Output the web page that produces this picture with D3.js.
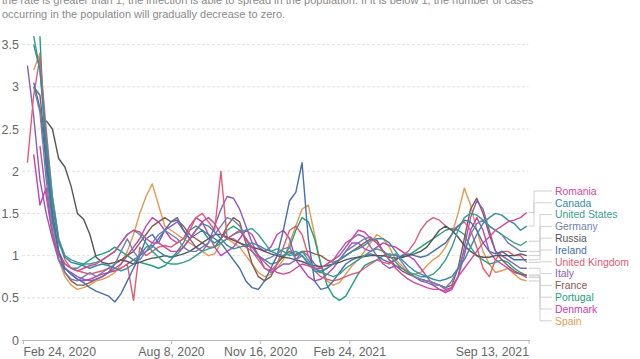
<!DOCTYPE html>
<html><head><meta charset="utf-8">
<script src="https://cdn.jsdelivr.net/npm/d3@7"></script>
<style>
html,body{margin:0;padding:0;background:#fff;}
svg{display:block;font-family:"Liberation Sans",Arial,sans-serif;}
</style></head>
<body><svg id="c" width="640" height="359"></svg>
<script>
// ---- data ----
const startDate = "2020-02-29";   // first weekly estimate
const stepDays = 7;
const tickLabels = ["Feb 24, 2020","Aug 8, 2020","Nov 16, 2020","Feb 24, 2021","Sep 13, 2021"];
const yTicks = [0,0.5,1,1.5,2,2.5,3,3.5];
const countries = ["Romania","Canada","United States","Germany","Russia","Ireland","United Kingdom","Italy","France","Portugal","Denmark","Spain"];
const colors = ["#d4489c","#3a8aa6","#3a9d8c","#6f7fb3","#555555","#456fae","#e05c74","#8c5db8","#8a5a4c","#22a07a","#c640b3","#e3994f"];

const romania = [null,null,2.3,1.7,1.25,1.0,0.9,0.85,0.82,0.85, 0.88,0.9,0.95,1.0,1.05,1.15,1.25,1.3,1.28,1.2, 1.15,1.15,1.1,1.05,1.05,1.1,1.2,1.3,1.4,1.45, 1.38,1.25,1.2,1.25,1.3,1.2,1.1,1.0,0.92,0.85, 0.8,0.78,0.8,0.85,0.9,0.88,0.85,0.85,0.9,0.95, 1.05,1.15,1.2,1.3,1.28,1.2,1.15,1.05,0.95,0.85, 0.78,0.72,0.68,0.65,0.62,0.6,0.6,0.58,0.62,0.75, 0.85,0.95,1.05,1.15,1.22,1.3,1.35,1.4,1.42,1.45, 1.51];
const canada = [null,3.5,3.2,2.3,1.6,1.15,0.98,0.92,0.9,0.88, 0.85,0.88,0.9,0.88,0.85,0.82,0.85,0.9,1.0,1.1, 1.12,1.05,1.0,0.98,1.02,1.1,1.2,1.3,1.38,1.35, 1.28,1.2,1.12,1.08,1.1,1.12,1.15,1.12,1.08,1.05, 1.02,1.0,1.02,1.05,1.0,0.9,0.82,0.8,0.85,0.9, 0.95,1.0,1.05,1.08,1.12,1.18,1.2,1.2,1.15,1.05, 0.95,0.88,0.82,0.78,0.75,0.72,0.7,0.72,0.75,0.85, 0.95,1.1,1.25,1.38,1.45,1.5,1.48,1.42,1.38,1.3, 1.35];
const unitedStates = [null,3.6,3.2,2.4,1.7,1.2,1.0,0.95,0.92,0.9, 0.9,0.92,0.95,1.0,1.05,1.15,1.25,1.3,1.25,1.15, 1.05,0.98,0.92,0.9,0.9,0.92,0.95,1.0,1.05,1.08, 1.1,1.15,1.2,1.25,1.28,1.3,1.32,1.25,1.15,1.05, 1.08,1.05,1.0,1.02,1.05,0.95,0.85,0.8,0.78,0.75, 0.78,0.85,0.9,0.95,1.0,1.05,1.08,1.05,1.0,0.92, 0.85,0.8,0.78,0.75,0.75,0.78,0.85,0.95,1.1,1.3, 1.45,1.5,1.48,1.42,1.35,1.3,1.25,1.2,1.15,1.12, 1.17];
const germany = [null,3.0,2.7,1.9,1.3,0.95,0.8,0.72,0.7,0.75, 0.8,0.75,0.8,0.85,0.9,1.05,1.2,1.05,0.95,1.05, 1.15,1.25,1.3,1.25,1.2,1.1,1.05,1.05,1.1,1.15, 1.25,1.35,1.45,1.42,1.35,1.2,1.05,0.98,0.95,0.98, 1.02,1.08,1.1,0.95,1.0,0.92,0.85,0.82,0.85,0.9, 0.95,1.05,1.1,1.15,1.2,1.22,1.15,1.05,1.0,1.02, 0.92,0.82,0.75,0.72,0.7,0.68,0.65,0.62,0.7,0.85, 1.05,1.25,1.38,1.42,1.35,1.3,1.25,1.15,1.1,1.05, 1.05];
const russia = [null,null,null,2.6,2.5,2.15,2.05,1.82,1.5,1.43, 1.25,0.98,0.92,0.9,0.92,0.95,0.93,0.9,0.92,0.95, 0.97,0.98,1.0,0.98,1.0,1.02,1.05,1.1,1.15,1.2, 1.25,1.25,1.22,1.18,1.15,1.12,1.1,1.08,1.05,1.02, 1.0,0.98,0.97,0.95,0.93,0.9,0.88,0.87,0.88,0.9, 0.92,0.95,0.97,0.98,0.99,1.0,1.0,1.0,0.98,0.97, 0.98,1.0,1.02,1.05,1.1,1.2,1.3,1.35,1.3,1.22, 1.12,1.05,1.0,0.98,0.98,1.0,1.0,1.0,1.0,1.02, 1.0];
const ireland = [null,3.05,2.75,2.1,1.5,1.05,0.85,0.78,0.72,0.68, 0.62,0.58,0.55,0.52,0.45,0.55,0.7,0.85,1.0,1.2, 1.25,1.15,1.3,1.4,1.45,1.3,1.2,1.25,1.3,1.25, 1.2,1.15,1.05,0.95,0.85,0.7,0.62,0.6,0.7,0.85, 1.0,1.3,1.65,1.75,2.1,1.2,0.7,0.6,0.62,0.7, 0.8,0.9,0.95,0.98,1.0,1.02,1.0,0.95,0.92,0.95, 1.0,1.02,1.0,0.98,1.0,1.05,1.1,1.15,1.25,1.35, 1.42,1.4,1.3,1.15,1.05,1.02,1.05,1.0,0.95,0.95, 0.95];
const unitedKingdom = [2.1,2.9,3.35,2.5,1.7,1.2,0.95,0.85,0.82,0.8, 0.78,0.8,0.82,0.85,0.82,0.85,0.9,0.47,1.1,1.0, 1.05,1.1,1.12,1.1,1.15,1.2,1.3,1.45,1.5,1.4, 1.3,2.0,1.2,1.2,1.15,1.1,1.05,0.95,0.85,0.82, 0.9,1.1,1.3,1.35,1.25,1.0,0.82,0.75,0.72,0.7, 0.72,0.75,0.78,0.8,0.85,0.9,0.95,0.92,0.9,0.95, 1.0,1.05,1.15,1.3,1.4,1.45,1.42,1.35,1.3,1.35, 1.4,1.3,1.1,0.85,0.75,0.95,1.05,1.05,1.0,1.0, 0.92];
const italy = [3.25,2.65,1.9,1.5,1.2,0.95,0.85,0.8,0.75,0.72, 0.7,0.72,0.75,0.8,0.82,0.85,0.9,0.95,1.0,1.05, 1.1,1.2,1.3,1.35,1.4,1.3,1.2,1.1,1.05,1.15, 1.35,1.55,1.7,1.68,1.55,1.35,1.15,1.0,0.85,0.8, 0.85,0.9,0.9,0.95,1.05,1.0,0.9,0.85,0.9,0.95, 1.0,1.1,1.2,1.25,1.22,1.1,1.0,0.9,0.85,0.88, 0.85,0.8,0.75,0.7,0.68,0.65,0.65,0.6,0.62,0.75, 1.1,1.45,1.65,1.55,1.3,1.05,1.0,0.95,0.9,0.85, 0.85];
const france = [null,3.0,2.9,2.2,1.5,1.05,0.8,0.7,0.65,0.65, 0.68,0.72,0.75,0.8,0.9,0.95,1.0,1.05,1.15,1.25, 1.35,1.4,1.45,1.4,1.42,1.35,1.25,1.2,1.15,1.1, 1.1,1.2,1.35,1.45,1.4,1.15,0.9,0.75,0.7,0.75, 0.9,1.0,1.05,1.0,1.05,1.05,1.02,1.0,0.95,0.92, 0.95,1.0,1.05,1.1,1.15,1.2,1.18,1.05,0.95,0.88, 0.82,0.78,0.75,0.72,0.7,0.68,0.65,0.62,0.65,0.85, 1.2,1.55,1.68,1.5,1.25,1.05,0.95,0.88,0.82,0.78, 0.77];
const portugal = [null,null,3.6,2.0,1.4,1.05,0.9,0.85,0.85,0.9, 0.95,1.0,1.02,1.05,1.1,1.05,1.0,0.95,0.92,0.9, 0.88,0.85,0.88,0.95,1.05,1.15,1.3,1.35,1.3,1.2, 1.15,1.2,1.3,1.35,1.3,1.2,1.1,1.0,0.95,0.9, 0.92,0.98,1.1,1.3,1.45,1.4,1.2,0.9,0.65,0.52, 0.47,0.52,0.65,0.78,0.88,0.92,0.95,1.0,1.02,1.0, 0.98,1.0,1.05,1.1,1.15,1.2,1.25,1.3,1.32,1.3, 1.25,1.1,1.0,0.95,0.9,0.92,0.95,0.92,0.85,0.8, 0.76];
const denmark = [null,2.2,1.6,1.8,1.25,0.95,0.85,0.78,0.72,0.7, 0.72,0.75,0.78,0.8,0.85,0.9,1.0,1.1,1.2,1.35, 1.45,1.4,1.3,1.2,1.15,1.2,1.35,1.45,1.4,1.25, 1.1,1.0,1.05,1.1,1.2,1.3,1.25,1.1,1.05,1.1, 1.25,1.3,1.2,0.95,0.85,0.75,0.7,0.72,0.78,0.85, 0.95,1.05,1.15,1.15,1.08,1.05,1.1,1.15,1.12,1.1, 1.05,1.0,0.95,0.85,0.75,0.65,0.6,0.56,0.6,0.75, 1.0,1.3,1.45,1.3,1.05,0.95,0.9,0.85,0.8,0.78, 0.74];
const spain = [null,3.2,3.4,2.3,1.4,0.95,0.75,0.65,0.6,0.62, 0.65,0.7,0.72,0.75,0.8,0.9,1.05,1.25,1.5,1.7, 1.85,1.6,1.35,1.3,1.25,1.2,1.15,1.1,1.05,1.0, 1.02,1.15,1.2,1.15,1.1,1.0,0.9,0.8,0.75,0.78, 0.85,0.95,1.15,1.35,1.55,1.6,1.25,0.9,0.7,0.65, 0.68,0.78,0.88,0.95,1.05,1.15,1.25,1.2,1.1,0.95, 0.88,0.8,0.78,0.8,0.88,0.95,1.0,1.1,1.25,1.5, 1.8,1.6,1.3,1.05,0.9,0.8,0.82,0.85,0.78,0.72, 0.70];
const seriesValues = [romania,canada,unitedStates,germany,russia,ireland,unitedKingdom,italy,france,portugal,denmark,spain];
const introLines = [
  "the rate is greater than 1, the infection is able to spread in the population. If it is below 1, the number of cases",
  "occurring in the population will gradually decrease to zero."
];

// ---- drawing ----
const svg = d3.select("#c");
const parse = d3.timeParse("%b %d, %Y");
const tickDates = tickLabels.map(parse);
const t0 = d3.timeParse("%Y-%m-%d")(startDate);
const dates = romania.map((_, i) => d3.timeDay.offset(t0, i * stepDays));

const x = d3.scaleTime().domain([tickDates[0], tickDates[tickDates.length-1]]).range([23, 528.5]);
const y = d3.scaleLinear().domain([0, 3.5]).range([340, 44.6]);

// intro text (top line is clipped by the frame, as in the source)
svg.append("g").selectAll("text").data(introLines).join("text")
  .attr("x", 2).attr("y", (d,i) => 4 + i*13.6)
  .attr("fill", "#8a8a8a").attr("font-size", 11).text(d => d);

// gridlines
svg.append("g").selectAll("line").data(yTicks.filter(v => v > 0)).join("line")
  .attr("x1", 22).attr("x2", 528.5)
  .attr("y1", d => y(d)).attr("y2", d => y(d))
  .attr("stroke", "#e2e2e2").attr("stroke-dasharray", "3,2");

// y labels
svg.append("g").selectAll("text").data(yTicks).join("text")
  .attr("x", 19).attr("y", d => y(d) + 4.5)
  .attr("text-anchor", "end").attr("fill", "#666").attr("font-size", 12.5)
  .text(d => d);

// x axis
const xAxis = d3.axisBottom(x).tickValues(tickDates).tickSize(4).tickPadding(2).tickFormat((d,i) => tickLabels[i]);
const ax = svg.append("g").attr("transform", "translate(0,340)").call(xAxis);
ax.select(".domain").attr("stroke", "#bbb").attr("d", "M22,0.5H530");
ax.selectAll(".tick line").attr("stroke", "#bbb");
ax.selectAll(".tick text").attr("fill", "#666").attr("font-size", 12.3)
  .attr("font-family", "Liberation Sans, Arial, sans-serif").attr("dy", "0.78em")
  .attr("text-anchor", (d,i) => i === 0 ? "start" : (i === tickLabels.length-1 ? "end" : "middle"));

// lines
const line = d3.line().defined(d => d[1] != null).x(d => x(d[0])).y(d => y(d[1]));
const order = d3.range(countries.length).reverse();
svg.append("g").selectAll("path").data(order).join("path")
  .attr("d", i => line(dates.map((dt, k) => [dt, seriesValues[i][k]])))
  .attr("fill", "none").attr("stroke", i => colors[i]).attr("stroke-width", 1.4)
  .attr("stroke-linejoin", "round");

// labels + connectors
const labelY = countries.map((c, i) => 191 + i * 11.8);
const endX = x(dates[dates.length-1]);
const conn = svg.append("g");
countries.forEach((c, i) => {
  const v = seriesValues[i][seriesValues[i].length-1];
  const ye = y(v), yl = labelY[i];
  const xm = i < 2 ? 534 : 540;
  conn.append("path")
    .attr("d", `M${endX+2},${ye}H${xm}V${yl}H552`)
    .attr("fill", "none").attr("stroke", "#cfcfcf").attr("stroke-width", 1);
});
svg.append("g").selectAll("text").data(countries).join("text")
  .attr("x", 555).attr("y", (d,i) => labelY[i] + 3.8)
  .attr("fill", (d,i) => colors[i]).attr("font-size", 10.4).text(d => d);
</script></body></html>
